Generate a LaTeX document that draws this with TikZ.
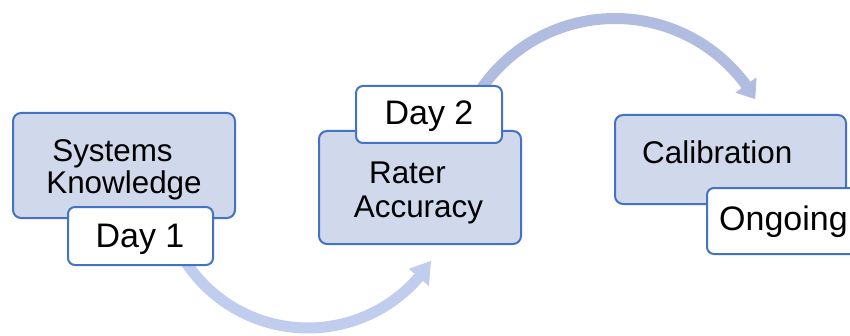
\documentclass[tikz,border=0pt]{standalone}
\usepackage{fontspec}
\setmainfont{Liberation Sans}
\usetikzlibrary{calc}
\definecolor{boxline}{HTML}{4472C4}
\definecolor{boxfill}{HTML}{D0D8EC}
\definecolor{topflow}{HTML}{B0BDE0}
\definecolor{botflow}{HTML}{C1CDEF}
\begin{document}
\begin{tikzpicture}[x=1pt,y=1pt,
  stage/.style={draw=boxline, line width=2pt, fill=boxfill, rounded corners=8pt, inner sep=0pt},
  when/.style={draw=boxline, line width=2pt, fill=white, rounded corners=7pt, inner sep=0pt},
  maintext/.style={inner sep=0pt, anchor=base, font=\fontsize{31.4}{33}\selectfont},
  daytext/.style={inner sep=0pt, anchor=base, font=\fontsize{34}{36}\selectfont}]
\clip (0,0) rectangle (850,335);

% curved arrows (drawn first, so the boxes sit on top of them)
\coordinate (ctop) at (615,154.2);
\draw[topflow, line width=11pt] ($(ctop)+(150.2:162.3)$) arc[start angle=150.2, end angle=35.6, radius=162.3];
\fill[topflow] ($(ctop)+(36.2:149.3)$) -- ($(ctop)+(30.2:162.3)$) -- ($(ctop)+(36.2:175.3)$) -- cycle;

\coordinate (cbot) at (308,153.3);
\draw[botflow, line width=11pt] ($(cbot)+(207.8:146.3)$) arc[start angle=207.8, end angle=319.8, radius=146.3];
\fill[botflow] ($(cbot)+(319.2:133.3)$) -- ($(cbot)+(327.2:146.3)$) -- ($(cbot)+(319.2:159.8)$) -- cycle;

% stage 1
\node[stage, minimum width=222pt, minimum height=105pt] (sys) at (124,169.5) {};
\node[when, minimum width=145pt, minimum height=58pt] (d1) at (140.5,99) {};
\node[maintext] (sysA) at (112.5,174) {Systems};
\node[maintext] (sysB) at (124,142) {Knowledge};
\node[daytext] (d1t) at (140,88) {Day 1};

% stage 2
\node[stage, minimum width=202pt, minimum height=113pt] (rat) at (420,147.5) {};
\node[when, minimum width=146pt, minimum height=57pt] (d2) at (429,220.5) {};
\node[maintext] (ratA) at (407.5,152) {Rater};
\node[maintext] (ratB) at (418.5,118) {Accuracy};
\node[daytext] (d2t) at (429,210) {Day 2};

% stage 3
\node[stage, minimum width=231pt, minimum height=89pt] (cal) at (730.5,175.5) {};
\node[when, minimum width=170pt, minimum height=66pt] (ong) at (792,114) {};
\node[maintext, anchor=base west] (calt) at (642,171.5) {Calibration};
\node[daytext, anchor=base west] (ongt) at (719,104.5) {Ongoing};
\end{tikzpicture}
\end{document}
